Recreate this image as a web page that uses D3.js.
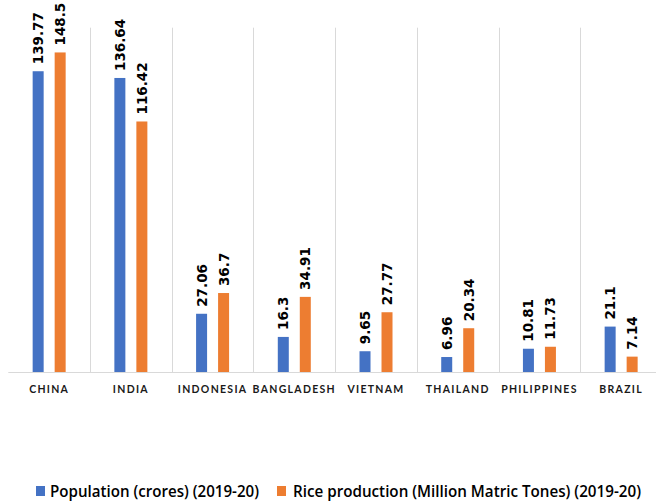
<!DOCTYPE html>
<html>
<head>
<meta charset="utf-8">
<script src="https://cdn.jsdelivr.net/npm/d3@7"></script>
<style>
  html, body { margin: 0; padding: 0; background: #fff; }
  svg { display: block; }
</style>
</head>
<body>
<svg id="chart" width="656" height="501"></svg>
<script>
// Countries and the two series (2019-20)
const countries = ["CHINA", "INDIA", "INDONESIA", "BANGLADESH", "VIETNAM", "THAILAND", "PHILIPPINES", "BRAZIL"];
const population = [139.77, 136.64, 27.06, 16.3, 9.65, 6.96, 10.81, 21.1];
const riceProduction = [148.5, 116.42, 36.7, 34.91, 27.77, 20.34, 11.73, 7.14];
const seriesNames = ["Population (crores) (2019-20)", "Rice production (Million Matric Tones) (2019-20)"];
const seriesColors = ["#4472C4", "#ED7D31"];

const svg = d3.select("#chart");

const plot = { left: 8.3, right: 662, top: 27.7, bottom: 372 };

const x = d3.scaleBand()
  .domain(countries)
  .range([plot.left, plot.right])
  .paddingInner(0).paddingOuter(0);

const inner = d3.scaleBand()
  .domain([0, 1])
  .range([-16.5, 16.5])
  .paddingInner(0.5);

const y = d3.scaleLinear()
  .domain([0, 160])
  .range([plot.bottom, plot.top]);

// Vertical separators between categories
const boundaries = d3.range(1, countries.length + 1).map(i => plot.left + i * x.step());
svg.append("g")
  .selectAll("line")
  .data(boundaries)
  .join("line")
  .attr("x1", d => Math.round(d) + 0.5)
  .attr("x2", d => Math.round(d) + 0.5)
  .attr("y1", plot.top)
  .attr("y2", plot.bottom)
  .attr("stroke", "#d9d9d9")
  .attr("stroke-width", 1);

// Category axis along the baseline
const xAxis = svg.append("g")
  .attr("transform", `translate(0,${plot.bottom})`)
  .call(d3.axisBottom(x).tickSize(0).tickPadding(14));
xAxis.select(".domain").attr("stroke", "#d9d9d9").attr("d", `M${plot.left},0.5H656`);
xAxis.selectAll("text")
  .attr("font-family", "Lato, 'Open Sans', sans-serif")
  .attr("font-size", 10.5)
  .attr("font-weight", 700)
  .attr("letter-spacing", "1.3px")
  .attr("fill", "#1a1a1a");

// Bars and value labels
const rows = countries.map((c, i) => ({ country: c, values: [population[i], riceProduction[i]] }));

const groups = svg.append("g")
  .selectAll("g")
  .data(rows)
  .join("g")
  .attr("transform", d => `translate(${x(d.country) + x.bandwidth() / 2},0)`);

groups.selectAll("rect")
  .data(d => d.values.map((v, k) => ({ v, k })))
  .join("rect")
  .attr("x", d => inner(d.k))
  .attr("width", inner.bandwidth())
  .attr("y", d => y(d.v))
  .attr("height", d => y(0) - y(d.v))
  .attr("fill", d => seriesColors[d.k]);

groups.selectAll("text")
  .data(d => d.values.map((v, k) => ({ v, k })))
  .join("text")
  .attr("transform", d => `translate(${inner(d.k) + inner.bandwidth() / 2},${y(d.v) - 7}) rotate(-90)`)
  .attr("dy", "0.37em")
  .attr("font-family", "'DejaVu Sans', sans-serif")
  .attr("font-size", 13.5)
  .attr("font-weight", 700)
  .attr("fill", "#000")
  .text(d => d.v);

// Legend
const legendItems = [
  { name: seriesNames[0], color: seriesColors[0], sx: 36, tx: 50, w: 209 },
  { name: seriesNames[1], color: seriesColors[1], sx: 277, tx: 293, w: 348 }
];
const legend = svg.append("g");
legend.selectAll("rect")
  .data(legendItems)
  .join("rect")
  .attr("x", d => d.sx)
  .attr("y", 486)
  .attr("width", 9)
  .attr("height", 10)
  .attr("fill", d => d.color);
legend.selectAll("text")
  .data(legendItems)
  .join("text")
  .attr("x", d => d.tx)
  .attr("y", 496.5)
  .attr("textLength", d => d.w)
  .attr("lengthAdjust", "spacingAndGlyphs")
  .attr("font-family", "'Open Sans', Lato, sans-serif")
  .attr("font-size", 15.5)
  .attr("font-weight", 600)
  .attr("fill", "#000")
  .text(d => d.name);
</script>
</body>
</html>
